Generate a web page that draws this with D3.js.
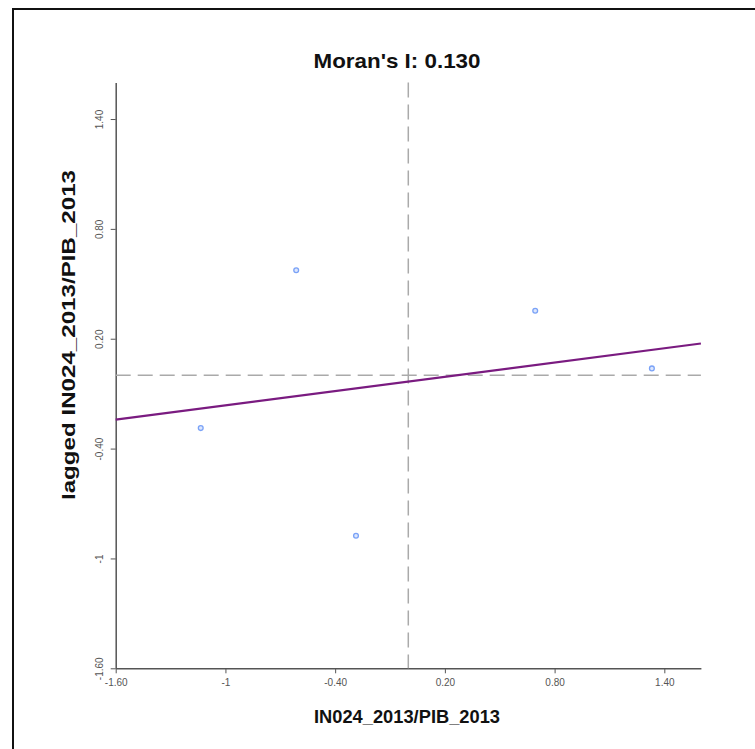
<!DOCTYPE html>
<html>
<head>
<meta charset="utf-8">
<script src="https://cdn.jsdelivr.net/npm/d3@7"></script>
<style>
  body { margin: 0; background: #fff; }
  svg { display: block; }
</style>
</head>
<body>
<script>
// standardized values
var xValues = [-1.135, -0.613, -0.286, 0.694, 1.332];
var lagValues = [-0.288, 0.574, -0.876, 0.353, 0.038];
var moransI = 0.130;
var intercept = -0.034;

var xTicks = [-1.6, -1, -0.4, 0.2, 0.8, 1.4];
var xTickLabels = ["-1.60", "-1", "-0.40", "0.20", "0.80", "1.40"];
var yTicks = [-1.6, -1, -0.4, 0.2, 0.8, 1.4];
var yTickLabels = ["-1.60", "-1", "-0.40", "0.20", "0.80", "1.40"];

var W = 755, H = 749;
var svg = d3.select("body").append("svg")
    .attr("width", W)
    .attr("height", H);

// frame of the screenshot
svg.append("path")
    .attr("d", "M13," + H + " L13,9 L" + W + ",9")
    .attr("fill", "none")
    .attr("stroke", "#111")
    .attr("stroke-width", 2);

var x = d3.scaleLinear().domain([-1.6, 1.6]).range([115.7, 700.9]);
var y = d3.scaleLinear().domain([-1.6, 1.6]).range([668.3, 82.4]);

// x axis
var gx = svg.append("g")
    .attr("transform", "translate(0," + y(-1.6) + ")")
    .call(d3.axisBottom(x).tickValues(xTicks)
        .tickFormat((d, i) => xTickLabels[i])
        .tickSize(5).tickSizeOuter(0));
gx.select(".domain").attr("stroke", "#555").attr("stroke-width", 1.5);
gx.selectAll(".tick line").attr("stroke", "#555");
gx.selectAll(".tick text")
    .attr("y", 11)
    .attr("fill", "#555")
    .attr("font-family", "Liberation Sans, Arial, sans-serif")
    .attr("font-size", 10);

// y axis, labels rotated like R's default
var gy = svg.append("g")
    .attr("transform", "translate(" + x(-1.6) + ",0)")
    .call(d3.axisLeft(y).tickValues(yTicks)
        .tickFormat((d, i) => yTickLabels[i])
        .tickSize(5).tickSizeOuter(0));
gy.select(".domain").attr("stroke", "#555").attr("stroke-width", 1.5);
gy.selectAll(".tick line").attr("stroke", "#555");
gy.selectAll(".tick text")
    .attr("transform", "rotate(-90)")
    .attr("x", 0)
    .attr("y", -13)
    .attr("dy", 0)
    .attr("text-anchor", "middle")
    .attr("fill", "#555")
    .attr("font-family", "Liberation Sans, Arial, sans-serif")
    .attr("font-size", 10);

// mean lines
var dash = "15,7";
svg.append("line")
    .attr("x1", x(-1.6)).attr("x2", x(1.6))
    .attr("y1", y(0)).attr("y2", y(0))
    .attr("stroke", "#aaa").attr("stroke-width", 1.5)
    .attr("stroke-dasharray", dash);
svg.append("line")
    .attr("x1", x(0)).attr("x2", x(0))
    .attr("y1", y(1.6)).attr("y2", y(-1.6))
    .attr("stroke", "#aaa").attr("stroke-width", 1.5)
    .attr("stroke-dasharray", dash);

// regression line, slope = Moran's I
svg.append("line")
    .attr("x1", x(-1.6)).attr("y1", y(intercept + moransI * -1.6))
    .attr("x2", x(1.6)).attr("y2", y(intercept + moransI * 1.6))
    .attr("stroke", "#7a1b80")
    .attr("stroke-width", 2.2);

// points
svg.selectAll("circle.pt")
    .data(xValues.map((v, i) => [v, lagValues[i]]))
    .enter()
    .append("circle")
    .attr("class", "pt")
    .attr("cx", d => x(d[0]))
    .attr("cy", d => y(d[1]))
    .attr("r", 2.4)
    .attr("fill", "#dde7fd")
    .attr("stroke", "#7aa2f7")
    .attr("stroke-width", 1.3);

// titles
svg.append("text")
    .attr("x", 397).attr("y", 68)
    .attr("text-anchor", "middle")
    .attr("font-family", "Liberation Sans Narrow, Arial Narrow, Liberation Sans, sans-serif")
    .attr("font-weight", "bold")
    .attr("font-size", 21)
    .attr("fill", "#111")
    .attr("textLength", 167).attr("lengthAdjust", "spacingAndGlyphs")
    .text("Moran's I: " + moransI.toFixed(3));

svg.append("text")
    .attr("x", 407).attr("y", 723)
    .attr("text-anchor", "middle")
    .attr("font-family", "Liberation Sans Narrow, Arial Narrow, Liberation Sans, sans-serif")
    .attr("font-weight", "bold")
    .attr("font-size", 19)
    .attr("fill", "#111")
    .attr("textLength", 186).attr("lengthAdjust", "spacingAndGlyphs")
    .text("IN024_2013/PIB_2013");

svg.append("text")
    .attr("transform", "translate(75,335) rotate(-90)")
    .attr("text-anchor", "middle")
    .attr("font-family", "Liberation Sans Narrow, Arial Narrow, Liberation Sans, sans-serif")
    .attr("font-weight", "bold")
    .attr("font-size", 19)
    .attr("fill", "#111")
    .attr("textLength", 330).attr("lengthAdjust", "spacingAndGlyphs")
    .text("lagged IN024_2013/PIB_2013");
</script>
</body>
</html>
